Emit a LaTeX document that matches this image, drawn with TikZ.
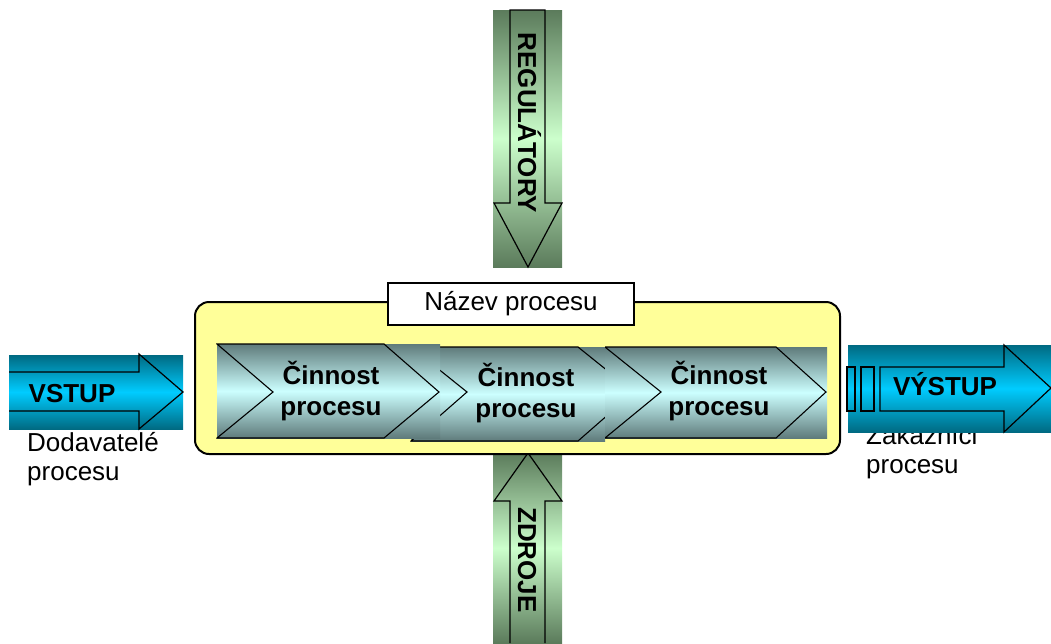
\documentclass[tikz,border=0pt]{standalone}
\usepackage{fontspec}
\setmainfont{Liberation Sans}
\definecolor{tealdark}{HTML}{006A82}
\definecolor{cyanmid}{HTML}{00CCFF}
\definecolor{greendark}{HTML}{5B7B5B}
\definecolor{greenlight}{HTML}{CCFFCC}
\definecolor{chevdark}{HTML}{5F7B7B}
\definecolor{chevlight}{HTML}{CCFFFF}
\definecolor{boxyellow}{HTML}{FFFF99}
\begin{document}
\begin{tikzpicture}[x=1pt,y=-1pt,
  lbl/.style={inner sep=0pt, font=\fontsize{26}{30}\selectfont},
  blbl/.style={inner sep=0pt, font=\fontsize{26}{30}\selectfont\bfseries},
  outl/.style={draw=black, line width=1.2pt, line join=miter},
  cyanshade/.style={top color=tealdark, bottom color=tealdark, middle color=cyanmid},
  greenshade/.style={top color=greendark, bottom color=greendark, middle color=greenlight},
  chevshade/.style={top color=chevdark, bottom color=chevdark, middle color=chevlight}]
\useasboundingbox (0,0) rectangle (1051,643);

% ---- top arrow: REGULATORY
\shade[greenshade] (493,10) rectangle (562,267);
\draw[outl] (510,10) -- (510,203) -- (494,203) -- (528,267) -- (562,203) -- (545,203) -- (545,10) -- cycle;
\node[blbl, rotate=-90, anchor=base] (reg) at (518,123) {REGULÁTORY};

% ---- bottom arrow: ZDROJE
\shade[greenshade] (493,453) rectangle (562,643);
\draw[outl] (510,643) -- (510,501) -- (494,501) -- (528,453) -- (562,501) -- (545,501) -- (545,643);
\node[blbl, rotate=-90, anchor=base] (zdr) at (518,560) {ZDROJE};

% ---- process box
\draw[fill=boxyellow, line width=2pt, rounded corners=14pt] (195,302) rectangle (840,454);
\node[draw=black, fill=white, line width=1.5pt, minimum width=246pt, minimum height=42pt, inner sep=0pt] (titlebox) at (511,304) {};
\node[lbl, anchor=base] (title) at (511,310) {Název procesu};

% ---- chevron 2 (behind)
\shade[chevshade] (411,347) rectangle (605,441);
\begin{scope}
  \clip (410,346) rectangle (605,442);
  \draw[outl, line width=1.1pt] (411,347) -- (578,347) -- (634,392) -- (578,441) -- (411,441) -- (467,392) -- cycle;
\end{scope}
% ---- chevron 1
\shade[chevshade] (217,344) rectangle (440,438);
\begin{scope}
  \clip (216,343) rectangle (440,439);
  \draw[outl, line width=1.1pt] (217,344) -- (384,344) -- (439,392) -- (384,438) -- (217,438) -- (273,392) -- cycle;
\end{scope}
% ---- chevron 3
\shade[chevshade] (605,347) rectangle (827,438);
\begin{scope}
  \clip (605,346) rectangle (828,439);
  \draw[outl, line width=1.1pt] (605,347) -- (776,347) -- (826,392) -- (776,438) -- (605,438) -- (661,392) -- cycle;
\end{scope}

\node[blbl, anchor=base] (c1a) at (331,384) {Činnost};
\node[blbl, anchor=base] (c1b) at (331,415) {procesu};
\node[blbl, anchor=base] (c2a) at (526,386) {Činnost};
\node[blbl, anchor=base] (c2b) at (526,417) {procesu};
\node[blbl, anchor=base] (c3a) at (719,384) {Činnost};
\node[blbl, anchor=base] (c3b) at (719,415) {procesu};

% ---- input arrow
\shade[cyanshade] (9,355) rectangle (183,429);
\draw[outl] (9,372) -- (139,372) -- (139,354) -- (183,392) -- (139,429) -- (139,411) -- (9,411);
\node[blbl, anchor=base] (vstup) at (72,402) {VSTUP};
\node[lbl, anchor=base west] (dod1) at (27,451) {Dodavatelé};
\node[lbl, anchor=base west] (dod2) at (27,480) {procesu};

% ---- output: customers text (partly hidden by the arrow)
\node[lbl, anchor=base west] (zak1) at (866,444) {Zákazníci};
\node[lbl, anchor=base west] (zak2) at (866,473) {procesu};

% ---- output arrow
\shade[cyanshade] (848,345) rectangle (1051,432);
\draw[outl] (880,367) -- (1004,367) -- (1004,345) -- (1051,388) -- (1004,432) -- (1004,411) -- (880,411) -- cycle;
\draw[outl] (847,367) rectangle (855,411);
\draw[outl] (861,367) rectangle (874,411);
\node[blbl, anchor=base] (vystup) at (945,395) {VÝSTUP};
\end{tikzpicture}
\end{document}
